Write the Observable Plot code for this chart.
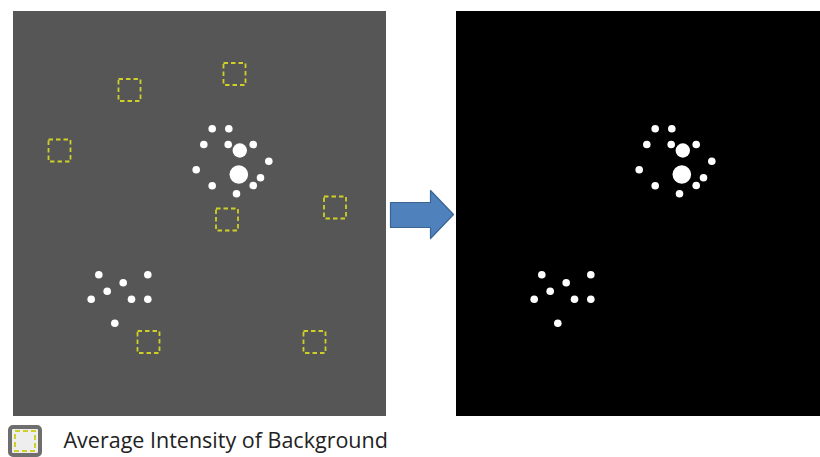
<!DOCTYPE html>
<html><head><meta charset="utf-8">
<script src="https://cdn.jsdelivr.net/npm/d3@7"></script>
<script src="https://cdn.jsdelivr.net/npm/@observablehq/plot@0.6"></script>
<style>body{margin:0;background:#fff;overflow:hidden}</style>
</head><body><div id="chart"></div>
<script>
// Panels: original image and background-subtracted image
const panelNames = ["Original", "Background removed"];
const panelLeft = [13, 456];
const panelRight = [386, 820];
const panelTop = [11, 11];
const panelBottom = [416, 416];
const panelColor = ["#565656", "#000000"];
const panelShift = [0, 443];

// Fluorescent spots (position in the original panel, radius)
const spotX = [211.7, 228.3, 203.3, 227.7, 252.7, 268.3, 195.7, 260, 252.7, 211.7, 236, 239.3, 238.3,
               98.3, 147.3, 122.7, 106.7, 90.7, 131, 147.3, 114.3];
const spotY = [128.3, 128.3, 144, 144, 144, 160.7, 169.3, 177.3, 185, 185.3, 193.3, 150, 174,
               274.3, 274.3, 282.3, 290.7, 298.7, 298.7, 298.7, 322.7];
const spotR = [3.8, 3.8, 3.8, 3.8, 3.8, 3.8, 3.8, 3.8, 3.8, 3.8, 3.8, 7.2, 9.3,
               3.8, 3.8, 3.8, 3.8, 3.8, 3.8, 3.8, 3.8];

// Background sampling boxes (centres) in the original panel
const boxX = [129.5, 234.5, 59.5, 335, 227, 148.5, 314.5];
const boxY = [90, 74, 150.5, 207.5, 219.5, 342, 342];
const boxHalf = 11;

// Arrow outline
const arrowX = [390, 430, 430, 453, 430, 430, 390];
const arrowY = [202, 202, 190, 214, 238, 227, 227];

const legendLabel = "Average Intensity of Background";
const legendBox = {x: 25, y: 441, half: 15};

const panels = panelNames.map((name, i) => ({name, x1: panelLeft[i], x2: panelRight[i], y1: panelTop[i], y2: panelBottom[i], color: panelColor[i]}));
const spots = panelShift.flatMap(dx => spotX.map((x, i) => ({x: x + dx, y: spotY[i], r: spotR[i]})));
const boxes = boxX.map((x, i) => ({x1: x - boxHalf, x2: x + boxHalf, y1: boxY[i] - boxHalf, y2: boxY[i] + boxHalf}));
const arrow = arrowX.map((x, i) => ({x, y: arrowY[i]}));

const chart = Plot.plot({
  width: 820,
  height: 457,
  margin: 0,
  x: {type: "identity", axis: null},
  y: {type: "identity", axis: null},
  r: {type: "identity"},
  style: {background: "#fff"},
  marks: [
    Plot.rect(panels, {x1: "x1", x2: "x2", y1: "y1", y2: "y2", fill: d => d.color}),
    Plot.rect(boxes, {x1: "x1", x2: "x2", y1: "y1", y2: "y2", fill: "none", stroke: "#cfcf2a", strokeWidth: 1.8, strokeDasharray: "4.5,3"}),
    Plot.dot(spots, {x: "x", y: "y", r: "r", fill: "#ffffff", stroke: null}),
    Plot.line(arrow, {x: "x", y: "y", fill: "#4F81BD", stroke: "#3A6494", strokeWidth: 1.2, curve: "linear-closed"}),
    Plot.rect([legendBox], {x1: d => d.x - d.half, x2: d => d.x + d.half, y1: d => d.y - d.half + 1, y2: d => d.y + d.half - 1, fill: "#eeeeee", stroke: "#6e6e6e", strokeWidth: 4, rx: 3}),
    Plot.rect([legendBox], {x1: d => d.x - d.half + 5, x2: d => d.x + d.half - 5, y1: d => d.y - d.half + 5, y2: d => d.y + d.half - 5, fill: "none", stroke: "#cfcf2a", strokeWidth: 2, strokeDasharray: "5,3"}),
    Plot.text([legendLabel], {x: 63, y: 441, text: d => d, textAnchor: "start", fontSize: 21.5, fontFamily: "Open Sans", fill: "#222"})
  ]
});
document.getElementById("chart").append(chart);
</script>
</body></html>
